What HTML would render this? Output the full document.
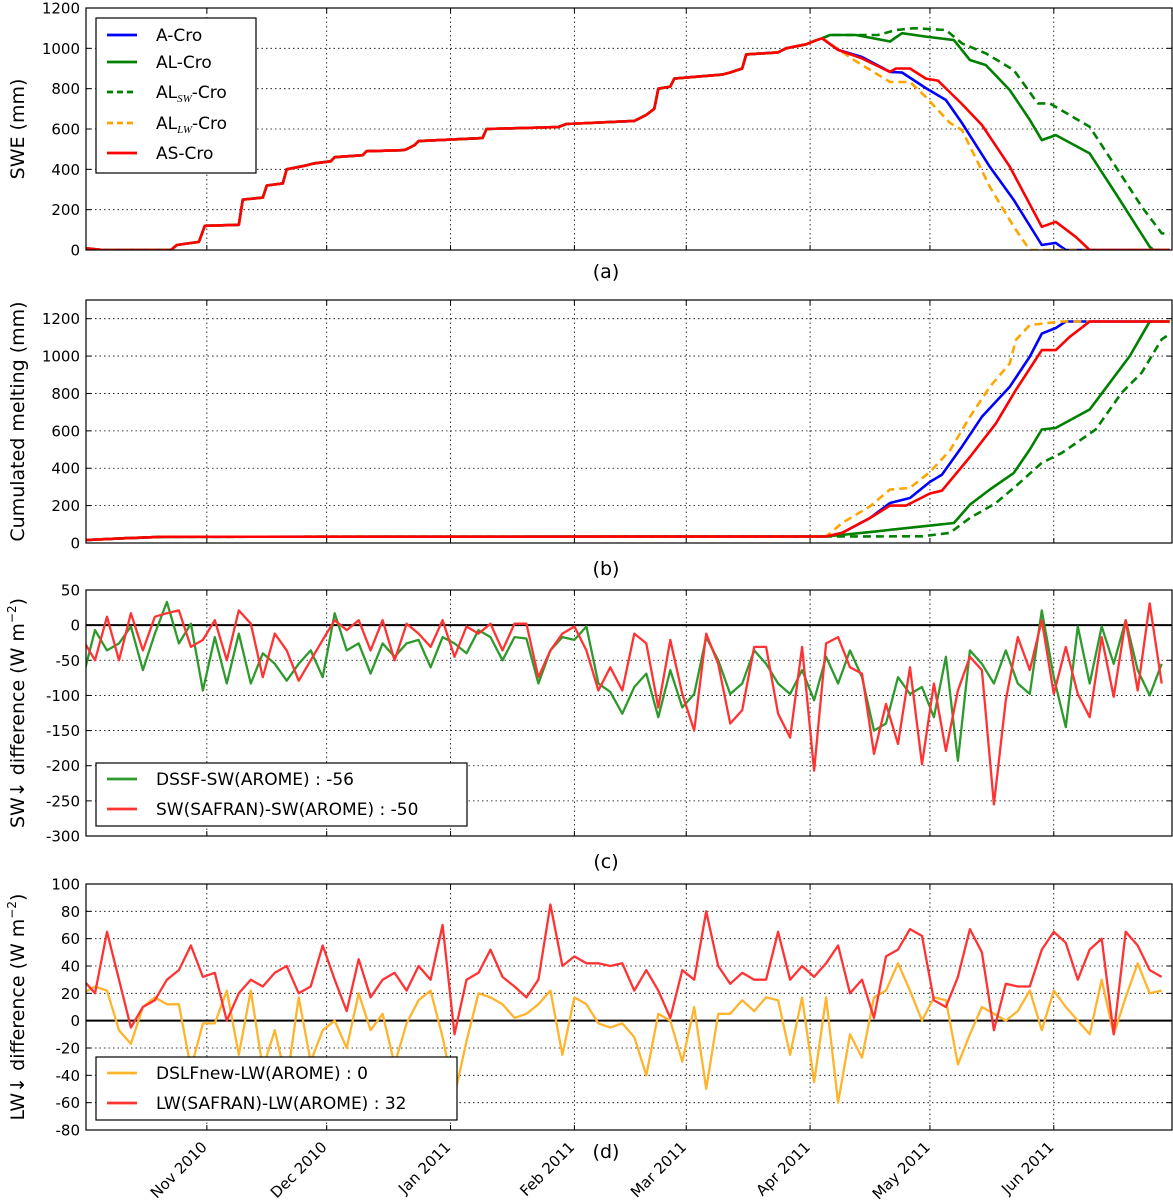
<!DOCTYPE html>
<html><head><meta charset="utf-8"><style>
body{margin:0;background:#fff;}
svg{display:block;font-family:"DejaVu Sans","Liberation Sans",sans-serif;}
</style></head><body>
<svg id="fig" width="1173" height="1202" viewBox="0 0 1173 1202" xmlns="http://www.w3.org/2000/svg"></svg>
<script>
// ---------- data ----------
const monthLabels = ["Nov 2010","Dec 2010","Jan 2011","Feb 2011","Mar 2011","Apr 2011","May 2011","Jun 2011"];
const monthDays = [31,61,92,123,151,182,212,243];

// panel (a) SWE: shared accumulation then per-experiment tails
const sweCommonDays = [0,5,22,23.5,29,30.5,39,40,45,46,50,51,56,58,62,63,70,71,80,81,83,84,100,101,119,121,138,141,143,144,147,148,160,162,165,166,174,176,181,183.5,185];
const sweCommonVals = [10,0,0,25,40,120,125,250,260,320,330,400,420,430,440,460,470,490,495,500,520,540,555,600,610,625,640,670,700,800,810,850,870,880,900,970,980,1000,1020,1040,1050];
const aCroDays = [189,195,202,205,211,216,220,227,233,240,243.5,246,272];
const aCroVals = [992,957,883,880,803,744,630,412,248,25,35,0,0];
const asCroDays = [189,195,202,203.5,207,211,214,220,225,232,240,243.5,248.5,252,272];
const asCroVals = [992,950,883,900,900,850,840,724,620,413,115,140,65,0,0];
const alLwDays = [193,202,207,211,217,220,227,233,237,272];
const alLwVals = [942,833,833,758,630,595,313,115,0,0];
const alDays = [187,193.5,202,205,211,218,222,226,232,237,240,243.5,252,258.5,267,268,272];
const alVals = [1066,1066,1034,1075,1058,1041,942,917,793,645,545,570,479,280,16,0,0];
const alSwDays = [187,199,203.5,208,216,220,226,233,239,242,252,258.5,265,270,272];
const alSwVals = [1066,1066,1091,1100,1091,1025,975,892,727,727,611,413,215,83,80];

// panel (b) cumulated melting
const meltBaseDays = [0,10,20,186];
const meltBaseVals = [15,25,33,35];
const bACroDays = [190,197,202,207,212,215,220,225,232,237,240,243.5,246,272];
const bACroVals = [54,134,214,241,327,365,515,675,836,997,1120,1150,1185,1185];
const bAsCroDays = [190,197,202,206,212,215,222,228.5,233.5,240,243.5,247,252,272];
const bAsCroVals = [54,134,200,200,265,280,460,640,818,1032,1032,1103,1185,1185];
const bAlLwDays = [190,197,202,207,212,217,222,227,232,233.5,237,245,272];
const bAlLwVals = [107,196,286,295,380,495,675,836,961,1086,1166,1185,1185];
const bAlDays = [198.5,210,218,222,227,233,237,240,243.5,252,257,262,267,272];
const bAlVals = [62,89,107,205,286,375,500,607,616,714,857,1000,1185,1185];
const bAlSwDays = [210,217,222,228.5,233.5,240,245,253.5,260,265,270,272];
const bAlSwVals = [36,54,134,214,304,429,482,607,804,911,1090,1117];

// panel (c) SW difference, every 3 days
const dssfSW = [-74,-7,-36,-26,-2,-64,-12,33,-26,2,-93,-17,-83,-12,-83,-40,-55,-79,-55,-36,-74,17,-36,-26,-69,-26,-45,-26,-21,-60,-17,-26,-40,-7,-17,-50,-17,-19,-83,-36,-17,-21,-2,-83,
 -95,-126,-88,-69,-131,-64,-117,-98,-17,-50,-98,-83,-36,-55,-83,-98,-64,-107,-45,-83,-36,-74,-150,-140,-74,-98,-88,-131,-45,-193,-36,-55,-83,-36,-83,-98,21,-74,-145,-2,-83,-2,-55,7,-64,-100,-55];
const safranSW = [-21,-50,12,-50,17,-36,12,17,21,-31,-21,7,-50,21,2,-74,-12,-36,-79,-50,-21,7,-7,7,-36,7,-50,2,-12,-31,7,-45,-2,-12,2,-36,2,2,-74,-36,-12,-2,-36,-93,
 -60,-93,-12,-26,-117,-21,-98,-150,-12,-55,-140,-121,-31,-31,-126,-160,-31,-207,-26,-17,-60,-69,-183,-112,-169,-60,-198,-83,-179,-93,-45,-64,-255,-107,-17,-64,7,-98,-31,-98,-131,-17,-102,7,-93,31,-83];

// panel (d) LW difference, every 3 days
const dslfLW = [20,25,22,-7,-17,10,17,12,12,-35,-2,-2,22,-25,22,-35,-7,-45,17,-30,-7,0,-20,20,-7,5,-32,-2,15,22,-12,-55,-15,20,17,12,2,5,12,22,-25,17,12,-2,
 -5,-2,-12,-40,5,0,-30,10,-50,5,5,15,7,17,15,-25,17,-45,17,-60,-10,-27,17,22,42,22,0,17,15,-32,-10,10,5,0,7,22,-7,22,10,0,-10,30,-10,17,42,20,22];
const safranLW = [30,20,65,30,-5,10,15,30,37,55,32,35,0,20,30,25,35,40,20,25,55,30,7,45,17,30,35,22,40,30,70,-10,30,35,52,32,25,17,30,85,40,47,42,42,
 40,42,22,37,22,2,37,30,80,40,27,35,30,30,65,30,40,32,42,55,20,30,2,47,52,67,62,15,10,32,67,50,-7,27,25,25,52,65,57,30,52,60,-10,65,55,37,32];

// ---------- layout ----------
const NS = "http://www.w3.org/2000/svg";
const svg = document.getElementById("fig");
const X0 = 86, X1 = 1172;
function xs(d){ return 83 + d*3.995; }
function mk(tag, attrs, parent){
  const e = document.createElementNS(NS, tag);
  for (const k in attrs) e.setAttribute(k, attrs[k]);
  (parent||svg).appendChild(e);
  return e;
}
const panels = {
  a:{top:8,bot:250,min:0,max:1200,ticks:[0,200,400,600,800,1000,1200],label:"SWE (mm)",tag:"(a)",tagY:278},
  b:{top:300,bot:543,min:0,max:1300,ticks:[0,200,400,600,800,1000,1200],label:"Cumulated melting (mm)",tag:"(b)",tagY:575},
  c:{top:590,bot:836,min:-300,max:50,ticks:[-300,-250,-200,-150,-100,-50,0,50],label:"SW\u2193 difference (W m",tag:"(c)",tagY:868},
  d:{top:884,bot:1130,min:-80,max:100,ticks:[-80,-60,-40,-20,0,20,40,60,80,100],label:"LW\u2193 difference (W m",tag:"(d)",tagY:1158}
};
function ys(p,v){ return p.bot - (v-p.min)/(p.max-p.min)*(p.bot-p.top); }

const defs = mk("defs",{});
for (const key in panels){
  const p = panels[key];
  const cp = mk("clipPath",{id:"clip-"+key},defs);
  mk("rect",{x:X0,y:p.top,width:X1-X0,height:p.bot-p.top},cp);
  const g = mk("g",{});
  
  
  p.g = g;
  monthDays.forEach(d=>{
    const l = mk("line",{x1:xs(d),x2:xs(d),y1:p.top,y2:p.bot,stroke:"#000","stroke-width":0.8,"stroke-dasharray":"1.5,3"},g);
    
    
    mk("line",{x1:xs(d),x2:xs(d),y1:p.bot,y2:p.bot-5,stroke:"#000","stroke-width":1},g);
    mk("line",{x1:xs(d),x2:xs(d),y1:p.top,y2:p.top+5,stroke:"#000","stroke-width":1},g);
  });
  p.ticks.forEach(v=>{
    const y = ys(p,v);
    const l = mk("line",{x1:X0,x2:X1,y1:y,y2:y,stroke:"#000","stroke-width":0.8,"stroke-dasharray":"1.5,3"},g);
    
    
    mk("line",{x1:X0,x2:X0+5,y1:y,y2:y,stroke:"#000","stroke-width":1},g);
    mk("line",{x1:X1-5,x2:X1,y1:y,y2:y,stroke:"#000","stroke-width":1},g);
    const t = mk("text",{x:X0-6,y:y+5.5,"text-anchor":"end","font-size":15},g);
    t.textContent = v;
    
    
  });
  const yl = mk("text",{transform:"translate(24,"+((p.top+p.bot)/2)+") rotate(-90)","text-anchor":"middle","font-size":19},g);
  yl.textContent = p.label;
  if (key==="c"||key==="d"){ const s = mk("tspan",{dy:-8,"font-size":12},yl); s.textContent="\u22122"; const s2 = mk("tspan",{dy:8},yl); s2.textContent=")"; }
  
  
  const tg = mk("text",{x:606,y:p.tagY,"text-anchor":"middle","font-size":19},g);
  tg.textContent = p.tag;
  
  
}

function line(key, days, vals, color, width, dash, name){
  const p = panels[key];
  let d = "";
  for (let i=0;i<vals.length;i++) d += (i?"L":"M") + xs(days[i]).toFixed(1) + "," + ys(p,vals[i]).toFixed(1);
  const a = {d:d,fill:"none",stroke:color,"stroke-width":width,"stroke-linejoin":"round","clip-path":"url(#clip-"+key+")"};
  if (dash) a["stroke-dasharray"] = dash;
  const e = mk("path",a,p.g);
  
  
}
function zero(key){
  const p = panels[key];
  const e = mk("line",{x1:X0,x2:X1,y1:ys(p,0),y2:ys(p,0),stroke:"#000","stroke-width":2},p.g);
  
  
}
const cat = (d1,v1,d2,v2)=>[d1.concat(d2), v1.concat(v2)];
let s;
s = cat(sweCommonDays,sweCommonVals,aCroDays,aCroVals); line("a",s[0],s[1],"#0000ff",2.6,null,"a-cro-swe-line");
s = cat(sweCommonDays,sweCommonVals,alDays,alVals); line("a",s[0],s[1],"#008000",2.6,null,"al-cro-swe-line");
s = cat(sweCommonDays,sweCommonVals,alSwDays,alSwVals); line("a",s[0],s[1],"#008000",2.6,"8,5","al-sw-cro-swe-line");
s = cat(sweCommonDays,sweCommonVals,alLwDays,alLwVals); line("a",s[0],s[1],"#ffa500",2.6,"8,5","al-lw-cro-swe-line");
s = cat(sweCommonDays,sweCommonVals,asCroDays,asCroVals); line("a",s[0],s[1],"#ff0000",2.6,null,"as-cro-swe-line");
s = cat(meltBaseDays,meltBaseVals,bACroDays,bACroVals); line("b",s[0],s[1],"#0000ff",2.6,null,"a-cro-melt-line");
s = cat(meltBaseDays,meltBaseVals,bAlDays,bAlVals); line("b",s[0],s[1],"#008000",2.6,null,"al-cro-melt-line");
s = cat(meltBaseDays,meltBaseVals,bAlSwDays,bAlSwVals); line("b",s[0],s[1],"#008000",2.6,"8,5","al-sw-cro-melt-line");
s = cat(meltBaseDays,meltBaseVals,bAlLwDays,bAlLwVals); line("b",s[0],s[1],"#ffa500",2.6,"8,5","al-lw-cro-melt-line");
s = cat(meltBaseDays,meltBaseVals,bAsCroDays,bAsCroVals); line("b",s[0],s[1],"#ff0000",2.6,null,"as-cro-melt-line");
const step = arr => arr.map((_,i)=>i*3);
zero("c");
line("c",step(dssfSW),dssfSW,"#2e9a2e",2.3,null,"dssf-sw-line");
line("c",step(safranSW),safranSW,"#ff3333",2.3,null,"safran-sw-line");
zero("d");
line("d",step(dslfLW),dslfLW,"#ffb42e",2.3,null,"dslf-lw-line");
line("d",step(safranLW),safranLW,"#ff3333",2.3,null,"safran-lw-line");

for (const key in panels){
  const p = panels[key];
  const f = mk("rect",{x:X0,y:p.top,width:X1-X0,height:p.bot-p.top,fill:"none",stroke:"#000","stroke-width":1.2},p.g);
  
  
}
monthDays.forEach((d,i)=>{
  const x = xs(d)+1, y = 1148;
  const t = mk("text",{x:x,y:y,"text-anchor":"end","font-size":15,transform:"rotate(-45 "+x+" "+y+")"});
  t.textContent = monthLabels[i];
  
  
});

function legend(x,y,w,h,items,name){
  const g = mk("g",{});
  
  
  mk("rect",{x:x,y:y,width:w,height:h,fill:"#fff",stroke:"#000","stroke-width":1.2},g);
  items.forEach(it=>{
    const a = {x1:x+11,x2:x+41,y1:it.y,y2:it.y,stroke:it.c,"stroke-width":2.8};
    if (it.dash) a["stroke-dasharray"]="6,4";
    const l = mk("line",a,g);
    
    
    const t = mk("text",{x:x+60,y:it.y+6,"font-size":17},g);
    if (it.sub){
      t.appendChild(document.createTextNode("AL"));
      const s1 = mk("tspan",{"font-size":11,dy:4,"font-style":"italic","font-family":"Liberation Serif, serif"},t); s1.textContent=it.sub;
      const s2 = mk("tspan",{dy:-4},t); s2.textContent="-Cro";
    } else t.textContent = it.t;
    
    
  });
}
legend(96,18,160,155,[
  {y:35,c:"#0000ff",t:"A-Cro"},
  {y:62,c:"#008000",t:"AL-Cro"},
  {y:92,c:"#008000",dash:true,sub:"SW"},
  {y:123,c:"#ffa500",dash:true,sub:"LW"},
  {y:153,c:"#ff0000",t:"AS-Cro"}],"legend-a");
legend(96,763,371,63,[
  {y:779,c:"#2e9a2e",t:"DSSF-SW(AROME) : -56"},
  {y:809,c:"#ff3333",t:"SW(SAFRAN)-SW(AROME) : -50"}],"legend-c");
legend(96,1057,361,63,[
  {y:1073,c:"#ffb42e",t:"DSLFnew-LW(AROME) : 0"},
  {y:1103,c:"#ff3333",t:"LW(SAFRAN)-LW(AROME) : 32"}],"legend-d");
</script>
</body></html>
